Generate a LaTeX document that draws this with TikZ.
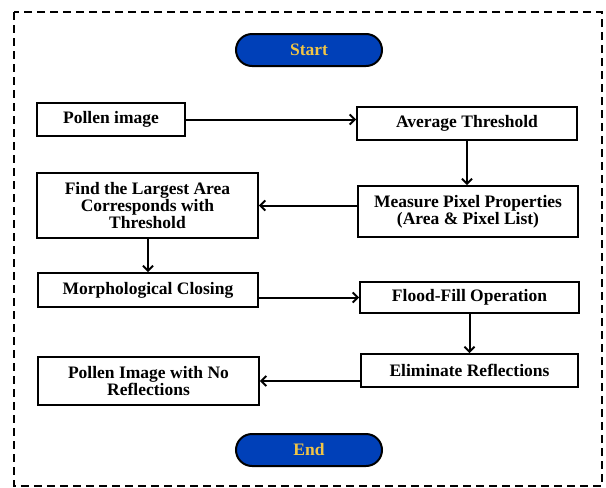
\documentclass[tikz,border=0pt]{standalone}
\usepackage{fontspec}
\setmainfont{Liberation Serif}
\usetikzlibrary{arrows.meta}
\definecolor{termblue}{RGB}{0,64,184}
\definecolor{termgold}{RGB}{240,196,70}
\begin{document}
\begin{tikzpicture}[x=1pt,y=-1pt,
  every node/.style={font=\bfseries\fontsize{17.5}{16.7}\selectfont, align=center, inner sep=0pt},
  box/.style={draw, line width=1.8pt, fill=white},
  term/.style={draw, line width=2pt, fill=termblue, text=termgold, rounded corners=16pt, minimum width=146pt, minimum height=32pt},
  conn/.style={line width=2pt, -{Straight Barb[length=5pt,width=10pt,line width=2pt]}},
  frame/.style={line width=2.2pt, dash pattern=on 8pt off 5pt}
]
\useasboundingbox (0,0) rectangle (606,488);
\draw[frame] (14,12) rectangle (602,486);

\node[term] (start) at (309,50) {Start};
\node[term] (end) at (309,450) {End};

\node[box, minimum width=148pt, minimum height=33pt] (pollen) at (111,119.5) {Pollen image};
\node[box, minimum width=220pt, minimum height=33pt] (avg) at (467,123.5) {Average Threshold};
\node[box, minimum width=220pt, minimum height=51pt] (measure) at (468,211.5) {Measure Pixel Properties\\(Area \& Pixel List)};
\node[box, minimum width=221pt, minimum height=65pt] (find) at (147.5,205.5) {Find the Largest Area\\Corresponds with\\Threshold};
\node[box, minimum width=220pt, minimum height=34pt] (morph) at (148,290) {Morphological Closing};
\node[box, minimum width=219pt, minimum height=31pt] (flood) at (469.5,297.5) {Flood-Fill Operation};
\node[box, minimum width=217pt, minimum height=33pt] (elim) at (469.5,370.5) {Eliminate Reflections};
\node[box, minimum width=221pt, minimum height=48pt] (pollenno) at (148.5,381) {Pollen Image with No\\Reflections};

\draw[conn] (pollen.east) -- (pollen.east -| avg.west);
\draw[conn] (avg.south) -- (avg.south |- measure.north);
\draw[conn] (measure.west |- find.east) -- (find.east);
\draw[conn] (find.south -| morph.north) -- (morph.north);
\draw[conn] (morph.east |- flood.west) -- (flood.west);
\draw[conn] (flood.south -| elim.north) -- (elim.north);
\draw[conn] (elim.west |- pollenno.east) -- (pollenno.east);
\end{tikzpicture}
\end{document}
